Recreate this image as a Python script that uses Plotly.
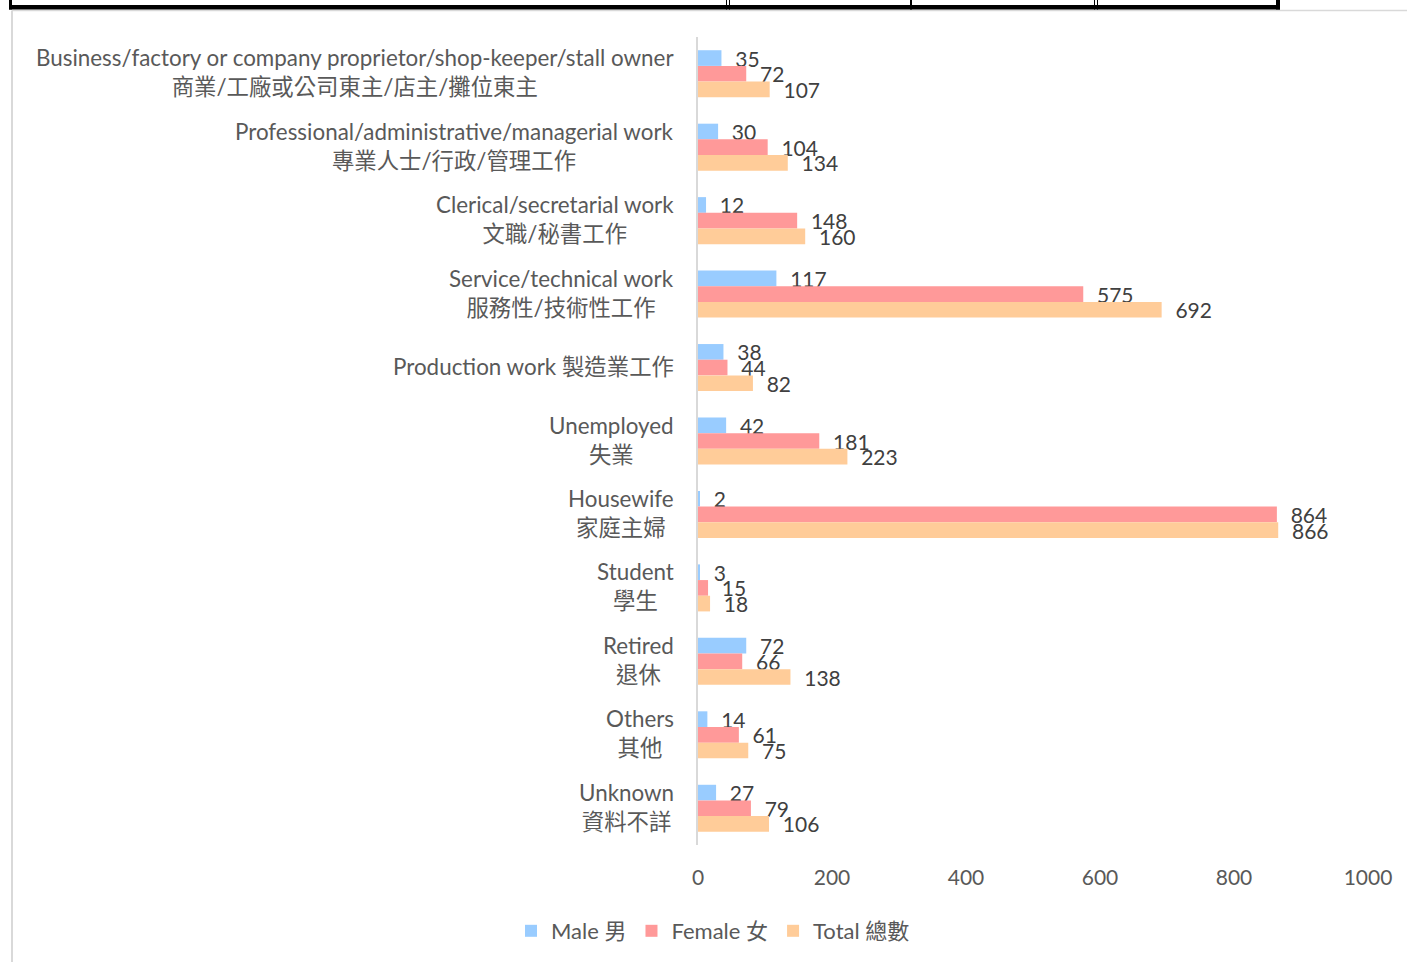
import plotly.graph_objects as go

categories_en = [
    "Business/factory or company proprietor/shop-keeper/stall owner",
    "Professional/administrative/managerial work",
    "Clerical/secretarial work",
    "Service/technical work",
    "Production work",
    "Unemployed",
    "Housewife",
    "Student",
    "Retired",
    "Others",
    "Unknown",
]
categories_zh = [
    "商業/工廠或公司東主/店主/攤位東主",
    "專業人士/行政/管理工作",
    "文職/秘書工作",
    "服務性/技術性工作",
    "製造業工作",
    "失業",
    "家庭主婦",
    "學生",
    "退休",
    "其他",
    "資料不詳",
]
single_line = ["Production work"]

male = [35, 30, 12, 117, 38, 42, 2, 3, 72, 14, 27]
female = [72, 104, 148, 575, 44, 181, 864, 15, 66, 61, 79]
total = [107, 134, 160, 692, 82, 223, 866, 18, 138, 75, 106]

series_names = ["Male 男", "Female 女", "Total 總數"]
colors = ["#99CCFF", "#FF9999", "#FFCC99"]

FONT = "Lato, 'Noto Sans CJK TC', sans-serif"

W, H = 1407, 962
L, R, T, B = 698, 39, 37, 117
PW, PH = W - L - R, H - T - B


def px_x(x):
    return (x - L) / PW


def px_y(y):
    return 1 + (T - y) / PH


fig = go.Figure()
for name, vals, col in zip(series_names, [male, female, total], colors):
    fig.add_trace(go.Bar(
        y=categories_en, x=vals, name=name, orientation="h",
        marker=dict(color=col, line=dict(width=0)),
        text=vals, texttemplate="\u00a0\u00a0%{x}", textposition="outside",
        constraintext="none", cliponaxis=False,
        textfont=dict(family=FONT, size=21, color="#404040"),
        hoverinfo="skip",
    ))

# category labels (two-line, centered)
annotations = []
for en, zh in zip(categories_en, categories_zh):
    txt = f"{en} {zh}" if en in single_line else f"{en}<br>{zh}"
    annotations.append(dict(
        x=0, xref="paper", y=en, yref="y", xanchor="right", yanchor="middle",
        xshift=-22, yshift=1.5, text=txt, showarrow=False, align="center",
        font=dict(family=FONT, size=22.4, color="#595959"),
    ))

shapes = [
    # chart frame (light gray)
    dict(type="line", xref="paper", yref="paper",
         x0=px_x(12), x1=px_x(W + 5), y0=px_y(10.5), y1=px_y(10.5),
         line=dict(color="#D9D9D9", width=1.5)),
    dict(type="line", xref="paper", yref="paper",
         x0=px_x(12), x1=px_x(12), y0=px_y(10.5), y1=px_y(H + 5),
         line=dict(color="#D9D9D9", width=2)),
]
# table border remnants above the chart (black)
shapes.append(dict(type="rect", xref="paper", yref="paper",
                   x0=px_x(9), x1=px_x(1280), y0=px_y(9.5), y1=px_y(5),
                   fillcolor="black", line=dict(width=0)))
for xa, xb in [(9, 12), (1276, 1280), (726, 727), (729, 730), (910, 912), (1094, 1095), (1097, 1098)]:
    shapes.append(dict(type="rect", xref="paper", yref="paper",
                       x0=px_x(xa), x1=px_x(xb), y0=px_y(9.5), y1=px_y(-1),
                       fillcolor="black", line=dict(width=0)))

fig.update_layout(
    width=W, height=H,
    margin=dict(l=L, r=R, t=T, b=B),
    paper_bgcolor="white", plot_bgcolor="white",
    barmode="group", bargap=0.36, bargroupgap=0,
    showlegend=True,
    legend=dict(orientation="h", xref="container", x=713 / W, xanchor="center",
                yref="container", y=(H - 931) / H, yanchor="middle",
                font=dict(family=FONT, size=22, color="#595959"),
                itemclick=False, traceorder="normal", entrywidth=0),
    xaxis=dict(range=[0, 1000], dtick=200, showgrid=False, zeroline=False,
               showline=False, ticks="", ticklabelstandoff=18,
               tickfont=dict(family=FONT, size=21, color="#595959")),
    yaxis=dict(categoryorder="array", categoryarray=categories_en,
               autorange="reversed", showticklabels=False, ticks="",
               showline=True, linecolor="#D9D9D9", linewidth=1.5,
               showgrid=False, zeroline=False),
    annotations=annotations,
    shapes=shapes,
)

fig.write_html(
    "out.html",
    config={"displayModeBar": False},
    post_script="document.body.style.margin='0';document.body.style.overflow='hidden';",
)
